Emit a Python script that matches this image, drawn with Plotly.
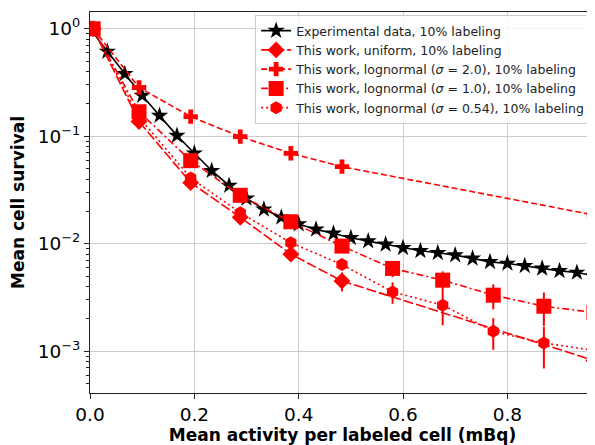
import plotly.graph_objects as go

# ---------------- data ----------------
exp_x = [0.0, 0.0333, 0.0667, 0.1, 0.1333, 0.1667, 0.2, 0.2333, 0.2667, 0.3,
         0.3333, 0.3667, 0.4, 0.4333, 0.4667, 0.5, 0.5333, 0.5667, 0.6, 0.6333,
         0.6667, 0.7, 0.7333, 0.7667, 0.8, 0.8333, 0.8667, 0.9, 0.9333, 0.9667]
exp_y = [1.0, 0.614, 0.381, 0.239, 0.1555, 0.1013, 0.0695, 0.0478, 0.0347, 0.0264,
         0.0209, 0.0176, 0.01524, 0.01359, 0.01247, 0.01135, 0.01057, 0.00985, 0.00916, 0.00859,
         0.00823, 0.00783, 0.0073, 0.00678, 0.00655, 0.00622, 0.00589, 0.00559, 0.0054, 0.00502]

uni_x = [0.006, 0.094, 0.193, 0.288, 0.385, 0.483, 0.966]
uni_y = [1.0, 0.137, 0.037, 0.0176, 0.0080, 0.0045, 0.00082]
uni_err = [0, 0, 0, 0, 0, 0.0009, 0.00025]

ln20_x = [0.006, 0.094, 0.193, 0.288, 0.385, 0.483, 0.966]
ln20_y = [1.0, 0.284, 0.1524, 0.0991, 0.0694, 0.0521, 0.0185]

ln10_x = [0.006, 0.094, 0.193, 0.288, 0.385, 0.483, 0.58, 0.676, 0.773, 0.87, 0.966]
ln10_y = [1.0, 0.169, 0.0593, 0.0282, 0.0160, 0.0095, 0.00589, 0.00458, 0.00332, 0.00262, 0.00229]
ln10_err = [0, 0, 0, 0, 0, 0, 0.001, 0.00095, 0.00087, 0.0009, 0.0008]

ln054_x = [0.006, 0.094, 0.193, 0.288, 0.385, 0.483, 0.58, 0.676, 0.773, 0.87, 0.966]
ln054_y = [1.0, 0.15, 0.0409, 0.0194, 0.0102, 0.0064, 0.00356, 0.00268, 0.00153, 0.00119, 0.00102]
ln054_err = [0, 0, 0, 0, 0, 0, 0.0008, 0.00094, 0.0005, 0.0005, 0.0004]

names = ["Experimental data, 10% labeling",
         "This work, uniform, 10% labeling",
         "This work, lognormal (<i>σ</i> = 2.0), 10% labeling",
         "This work, lognormal (<i>σ</i> = 1.0), 10% labeling",
         "This work, lognormal (<i>σ</i> = 0.54), 10% labeling"]

y_tickvals = [1, 0.1, 0.01, 0.001]
y_ticktext = ["10<sup>0</sup>", "10<sup>−1</sup>", "10<sup>−2</sup>", "10<sup>−3</sup>"]
x_tickvals = [0.0, 0.2, 0.4, 0.6, 0.8]
x_ticktext = ["0.0", "0.2", "0.4", "0.6", "0.8"]
minor_vals = [m * 10 ** e for e in (-4, -3, -2, -1, 0) for m in range(2, 10)]

RED = "#ff0000"
fig = go.Figure()

fig.add_trace(go.Scatter(x=exp_x, y=exp_y, name=names[0], mode="lines+markers",
                         line=dict(color="black", width=1.6),
                         marker=dict(symbol="star", size=13, color="black")))

def err(e):
    return dict(type="data", array=e, visible=True, color=RED, thickness=2, width=0)

fig.add_trace(go.Scatter(x=uni_x, y=uni_y, name=names[1], mode="lines+markers",
                         line=dict(color=RED, width=1.6, dash="10px,3px"),
                         marker=dict(symbol="diamond", size=13, color=RED),
                         error_y=err(uni_err)))
fig.add_trace(go.Scatter(x=ln20_x, y=ln20_y, name=names[2], mode="lines+markers",
                         line=dict(color=RED, width=1.6, dash="6px,3px"),
                         marker=dict(symbol="cross", size=12, color=RED)))
fig.add_trace(go.Scatter(x=ln10_x, y=ln10_y, name=names[3], mode="lines+markers",
                         line=dict(color=RED, width=1.6, dash="7px,3px,2px,3px"),
                         marker=dict(symbol="square", size=15, color=RED),
                         error_y=err(ln10_err)))
fig.add_trace(go.Scatter(x=ln054_x, y=ln054_y, name=names[4], mode="lines+markers",
                         line=dict(color=RED, width=1.6, dash="2px,3px"),
                         marker=dict(symbol="hexagon", size=13, color=RED),
                         error_y=err(ln054_err)))

font = "DejaVu Sans"
# the page body adds an 8px offset; the figure is sized so that the page does not overflow
fig.update_layout(
    width=587, height=437,
    margin=dict(l=82, r=0, t=4, b=52, autoexpand=False),
    paper_bgcolor="white", plot_bgcolor="white",
    font=dict(family=font, color="black"),
    showlegend=True,
    legend=dict(x=0.327, y=0.992, xanchor="left", yanchor="top",
                bgcolor="rgba(255,255,255,0.8)", bordercolor="#cccccc", borderwidth=1,
                font=dict(family=font, size=12.5, color="#222"),
                tracegroupgap=0, itemwidth=30),
    xaxis=dict(range=[0, 0.968], tickmode="array", tickvals=x_tickvals, ticktext=x_ticktext,
               automargin=False,
               showgrid=True, gridcolor="#cccccc", gridwidth=1,
               showline=True, linecolor="#222", linewidth=1, mirror=True,
               ticks="outside", ticklen=5, tickcolor="#222",
               tickfont=dict(size=18.5, family=font),
               zeroline=False,
               title=dict(text="<b>Mean activity per labeled cell (mBq)</b>",
                          font=dict(size=17, family=font), standoff=6)),
    yaxis=dict(type="log", range=[-3.389, 0.156], tickmode="array",
               tickvals=y_tickvals, ticktext=y_ticktext,
               automargin=False,
               showgrid=True, gridcolor="#cccccc", gridwidth=1,
               showline=True, linecolor="#222", linewidth=1, mirror=False,
               ticks="outside", ticklen=5, tickcolor="#222",
               tickfont=dict(size=18.5, family=font),
               minor=dict(tickmode="array", tickvals=minor_vals, ticks="outside",
                          ticklen=3, tickcolor="#222", showgrid=False),
               zeroline=False,
               title=dict(text="<b>Mean cell survival</b>",
                          font=dict(size=17, family=font), standoff=12)),
)

fig.write_html("out.html")
